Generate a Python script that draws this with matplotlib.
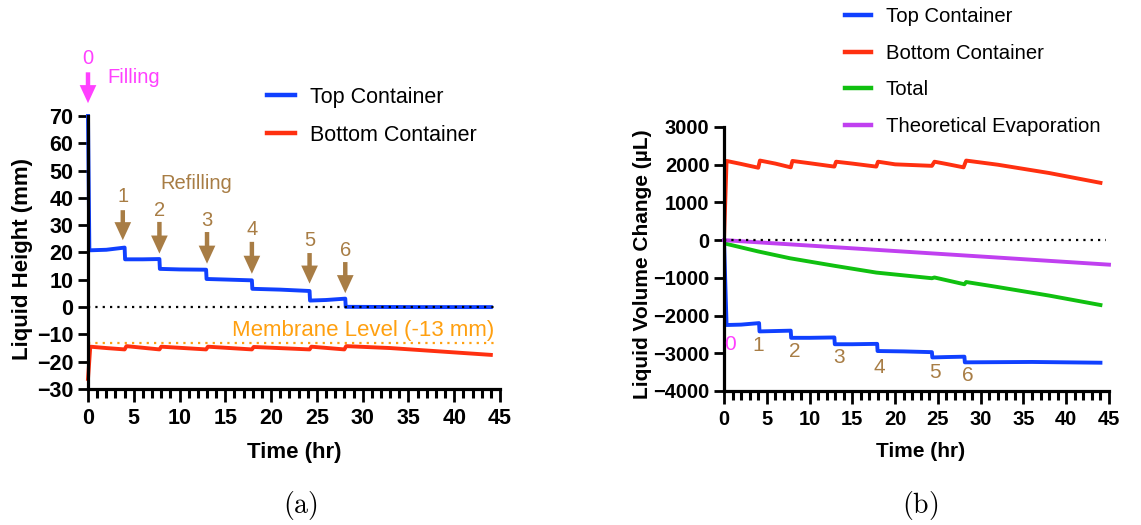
import numpy as np
import matplotlib.pyplot as plt
from matplotlib.ticker import MultipleLocator

plt.rcParams['font.family'] = ['Liberation Sans', 'DejaVu Sans']
plt.rcParams['mathtext.fontset'] = 'cm'

# ---- data, panel (a): liquid height (mm) vs time (hr)
t_top_a = [0, 0.15, 2.0, 4.0, 4.05, 6.0, 7.8, 7.85, 10.0, 12.9, 12.95, 15.0, 17.9, 17.95,
           21.0, 24.2, 24.25, 26.0, 28.1, 28.15, 36.0, 44.0]
h_top_a = [70, 20.8, 21.0, 21.8, 17.5, 17.5, 17.6, 14.0, 13.8, 13.7, 10.3, 10.1, 9.8, 6.7,
           6.4, 5.9, 2.4, 2.6, 3.1, 0.1, 0.0, 0.0]
t_bot_a = [0, 0.25, 2.0, 4.0, 4.2, 7.8, 8.0, 12.9, 13.1, 17.9, 18.1, 24.2, 24.4, 28.0, 28.2,
           33.0, 44.0]
h_bot_a = [-26.3, -14.5, -15.0, -15.5, -14.3, -15.5, -14.5, -15.5, -14.5, -15.5, -14.6,
           -15.5, -14.5, -15.5, -14.3, -15.0, -17.5]
membrane = -13
refill_t_a = [3.8, 7.8, 13.0, 17.9, 24.2, 28.1]
refill_tail_a = [35.5, 31.2, 27.5, 23.9, 19.8, 16.5]
refill_tip_a = [24.5, 19.6, 15.9, 12.2, 8.6, 5.1]
refill_lab_a = [40.4, 35.5, 31.8, 28.4, 24.5, 20.8]
refill_names = ['1', '2', '3', '4', '5', '6']

# ---- data, panel (b): liquid volume change (uL) vs time (hr)
t_top_b = [0, 0.3, 2.0, 4.1, 4.15, 6.0, 7.8, 7.85, 10.0, 12.9, 12.95, 15.0, 17.9, 17.95,
           21.0, 24.3, 24.35, 26.0, 28.1, 28.15, 36.0, 44.0]
v_top_b = [0, -2250, -2240, -2200, -2420, -2410, -2400, -2590, -2590, -2580, -2760, -2760,
           -2750, -2940, -2950, -2970, -3110, -3100, -3090, -3240, -3230, -3250]
t_bot_b = [0, 0.3, 2.0, 4.0, 4.2, 6.0, 7.8, 8.0, 10.0, 12.9, 13.1, 15.0, 17.8, 18.0, 20.0,
           24.3, 24.6, 26.0, 28.0, 28.3, 32.0, 38.0, 44.0]
v_bot_b = [0, 2100, 2020, 1920, 2110, 2030, 1930, 2100, 2040, 1950, 2080, 2030, 1950, 2080,
           2010, 1970, 2080, 2020, 1930, 2110, 2000, 1780, 1520]
t_tot_b = [0, 0.3, 4.0, 7.7, 12.9, 17.8, 24.3, 24.6, 28.1, 28.3, 31.9, 38.0, 44.0]
v_tot_b = [0, -100, -300, -480, -680, -860, -1010, -990, -1170, -1110, -1240, -1470, -1720]
t_evap_b = [0, 45]
v_evap_b = [0, -650]
num_t_b = [0.7, 4.0, 8.3, 13.5, 18.2, 24.7, 28.5]
num_v_b = [-2760, -2786, -2947, -3107, -3375, -3509, -3590]
num_lab_b = ['0', '1', '2', '3', '4', '5', '6']

BLUE = '#1040FF'
RED = '#FF3010'
GREEN = '#10C010'
PURPLE = '#C040F0'
PINK = '#FF40FF'
BROWN = '#A87D45'
ORANGE = '#FFA010'

fig = plt.figure(figsize=(11.41, 5.25), dpi=100)
W, H = 1141, 525
axa = fig.add_axes([88 / W, 1 - 389 / H, 412 / W, 273 / H])
axb = fig.add_axes([724 / W, 1 - 391 / H, 385 / W, 264 / H])


def style(ax, fs):
    for s in ['top', 'right']:
        ax.spines[s].set_visible(False)
    for s in ['left', 'bottom']:
        ax.spines[s].set_linewidth(2.3)
    ax.set_xlim(0, 45)
    ax.xaxis.set_major_locator(MultipleLocator(5))
    ax.xaxis.set_minor_locator(MultipleLocator(1))
    ax.tick_params(axis='x', which='major', length=9, width=2, pad=5, labelsize=fs)
    ax.tick_params(axis='x', which='minor', bottom=True, length=6.5, width=2.2,
                   color='black')
    ax.tick_params(axis='y', which='major', length=7.5, width=2, pad=3, labelsize=fs)
    for lab in ax.get_xticklabels() + ax.get_yticklabels():
        lab.set_fontweight('bold')


# ---------- panel (a)
axa.plot(t_top_a, h_top_a, color=BLUE, lw=2.8, label='Top Container', clip_on=False)
axa.plot(t_bot_a, h_bot_a, color=RED, lw=2.8, label='Bottom Container', clip_on=False)
axa.plot([0, 44.6], [0, 0], color='black', lw=1.6, ls=(0, (1, 2.3)))
axa.plot([0, 44.6], [membrane, membrane], color=ORANGE, lw=1.6, ls=(0, (1, 2.3)))
axa.set_ylim(-30, 70)
axa.set_yticks(np.arange(-30, 71, 10))
style(axa, 15.5)
axa.set_ylabel('Liquid Height (mm)', fontsize=16, fontweight='bold')
axa.yaxis.set_label_coords(-0.133, 0.476)
axa.set_xlabel('Time (hr)', fontsize=16, fontweight='bold')
axa.xaxis.set_label_coords(0.5, -0.194)

arrow_kw = dict(arrowstyle='simple,head_width=1.2,head_length=1.3,tail_width=0.32',
                mutation_scale=10, lw=0, shrinkA=0, shrinkB=0)
axa.annotate('', xy=(0, 74.7), xytext=(0, 86.0), annotation_clip=False,
             arrowprops=dict(color=PINK, **arrow_kw))
axa.text(0, 91.2, '0', color=PINK, fontsize=14.5, ha='center', va='center', clip_on=False)
axa.text(2.1, 84.2, 'Filling', color=PINK, fontsize=14.5, ha='left', va='center')
for t, y0, y1, yl, name in zip(refill_t_a, refill_tail_a, refill_tip_a, refill_lab_a, refill_names):
    axa.annotate('', xy=(t, y1), xytext=(t, y0), arrowprops=dict(color=BROWN, **arrow_kw))
    axa.text(t, yl, name, color=BROWN, fontsize=14.5, ha='center', va='center')
axa.text(11.8, 45.3, 'Refilling', color=BROWN, fontsize=14.5, ha='center', va='center')
axa.text(30.0, -8.6, 'Membrane Level (-13 mm)', color=ORANGE, fontsize=16,
         ha='center', va='center')

leg = axa.legend(loc='upper left', bbox_to_anchor=(267 / W, 1 - 87 / H),
                 bbox_transform=fig.transFigure, frameon=False, fontsize=15.5,
                 handlelength=1.3, handletextpad=0.7, labelspacing=0.78, borderpad=0,
                 borderaxespad=0)
for ln in leg.get_lines():
    ln.set_linewidth(3.2)

# ---------- panel (b)
axb.plot(t_top_b, v_top_b, color=BLUE, lw=2.8, label='Top Container')
axb.plot(t_bot_b, v_bot_b, color=RED, lw=2.8, label='Bottom Container')
axb.plot(t_tot_b, v_tot_b, color=GREEN, lw=2.8, label='Total')
axb.plot(t_evap_b, v_evap_b, color=PURPLE, lw=2.8, label='Theoretical Evaporation',
         clip_on=False)
axb.plot([0, 44.7], [0, 0], color='black', lw=1.6, ls=(0, (1, 2.3)))
axb.set_ylim(-4000, 3000)
axb.set_yticks(np.arange(-4000, 3001, 1000))
style(axb, 14.5)
axb.set_ylabel('Liquid Volume Change (µL)', fontsize=15, fontweight='bold')
axb.yaxis.set_label_coords(-0.187, 0.479)
axb.set_xlabel('Time (hr)', fontsize=15, fontweight='bold')
axb.xaxis.set_label_coords(0.51, -0.193)
for t, v, name in zip(num_t_b, num_v_b, num_lab_b):
    axb.text(t, v, name, color=PINK if name == '0' else BROWN, fontsize=15,
             ha='center', va='center')

leg = axb.legend(loc='upper left', bbox_to_anchor=(845 / W, 1 - 7 / H),
                 bbox_transform=fig.transFigure, frameon=False, fontsize=14.6,
                 handlelength=1.3, handletextpad=0.7, labelspacing=0.87, borderpad=0,
                 borderaxespad=0)
for ln in leg.get_lines():
    ln.set_linewidth(3.2)

fig.text(300 / W, 1 - 505 / H, r'$\mathrm{(a)}$', fontsize=20, ha='center', va='center')
fig.text(920 / W, 1 - 505 / H, r'$\mathrm{(b)}$', fontsize=20, ha='center', va='center')

fig.savefig('out.png', dpi=100)
